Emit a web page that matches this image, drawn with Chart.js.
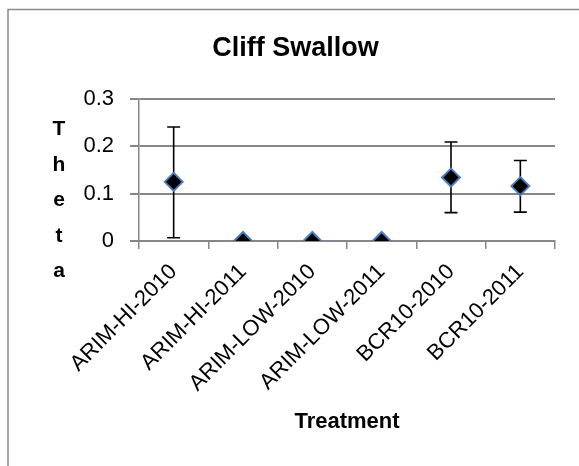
<!DOCTYPE html>
<html>
<head>
<meta charset="utf-8">
<script src="https://cdn.jsdelivr.net/npm/chart.js@4/dist/chart.umd.min.js"></script>
<style>
  html, body { margin: 0; padding: 0; background: #ffffff; }
  #wrap { width: 579px; height: 466px; }
</style>
</head>
<body>
<div id="wrap"><canvas id="chart" width="579" height="466"></canvas></div>
<script>
// Treatment groups along the x axis
const categories = ['ARIM-HI-2010', 'ARIM-HI-2011', 'ARIM-LOW-2010', 'ARIM-LOW-2011', 'BCR10-2010', 'BCR10-2011'];
// Estimated theta per treatment
const theta = [0.125, 0, 0, 0, 0.134, 0.116];
// Upper and lower ends of the error bars
const thetaUpper = [0.241, 0, 0, 0, 0.209, 0.170];
const thetaLower = [0.007, 0, 0, 0, 0.060, 0.061];
// Value axis ticks
const yTicks = [0, 0.1, 0.2, 0.3];

const chartTitle = 'Cliff Swallow';
const xTitle = 'Treatment';
const yTitle = 'Theta';

const SANS = "'Liberation Sans', Arial, sans-serif";
const GRID = '#868686';

// Thin frame around the chart object (left and top edges show)
const framePlugin = {
  id: 'frame',
  beforeDraw(chart) {
    const ctx = chart.ctx;
    ctx.save();
    ctx.strokeStyle = '#8a8a8a';
    ctx.lineWidth = 1.5;
    ctx.beginPath();
    ctx.moveTo(8, chart.height + 2);
    ctx.lineTo(8, 9.5);
    ctx.lineTo(chart.width + 2, 9.5);
    ctx.stroke();
    ctx.restore();
  }
};

// Vertical error bars with caps, drawn under the markers
const errorBarPlugin = {
  id: 'errorBars',
  beforeDatasetsDraw(chart) {
    const ctx = chart.ctx;
    const x = chart.scales.x, y = chart.scales.y;
    ctx.save();
    ctx.strokeStyle = '#000000';
    ctx.lineWidth = 1.6;
    const cap = 6.5;
    categories.forEach((c, i) => {
      if (thetaUpper[i] <= thetaLower[i]) return;
      const px = x.getPixelForValue(i);
      const top = y.getPixelForValue(thetaUpper[i]);
      const bot = y.getPixelForValue(thetaLower[i]);
      ctx.beginPath();
      ctx.moveTo(px, top); ctx.lineTo(px, bot);
      ctx.moveTo(px - cap, top); ctx.lineTo(px + cap, top);
      ctx.moveTo(px - cap, bot); ctx.lineTo(px + cap, bot);
      ctx.stroke();
    });
    ctx.restore();
  }
};

// Value-axis title written as stacked letters
const stackedTitlePlugin = {
  id: 'stackedTitle',
  afterDraw(chart) {
    const ctx = chart.ctx;
    const ys = chart.scales.y;
    ctx.save();
    ctx.fillStyle = '#000000';
    ctx.font = 'bold 21px ' + SANS;
    ctx.textAlign = 'center';
    ctx.textBaseline = 'alphabetic';
    const cx = ys.left + 23;
    const first = ys.top + 36;
    yTitle.split('').forEach((ch, i) => {
      ctx.fillText(ch, cx, first + i * 35.5);
    });
    ctx.restore();
  }
};

new Chart(document.getElementById('chart'), {
  type: 'line',
  data: {
    labels: categories,
    datasets: [{
      label: yTitle,
      data: theta,
      showLine: false,
      pointStyle: 'rectRot',
      pointRadius: 9,
      pointHoverRadius: 9,
      pointBorderWidth: 2,
      pointBackgroundColor: '#000000',
      pointBorderColor: '#4a7ebb'
    }]
  },
  options: {
    responsive: false,
    animation: false,
    events: [],
    layout: { padding: { left: 36, right: 24, top: 0, bottom: 27 } },
    plugins: {
      legend: { display: false },
      tooltip: { enabled: false },
      title: {
        display: true,
        text: chartTitle,
        color: '#000000',
        font: { family: SANS, size: 27, weight: 'bold', lineHeight: 1.2 },
        padding: { top: 32.3, bottom: 34.3 }
      }
    },
    scales: {
      x: {
        offset: true,
        grid: { offset: true, drawOnChartArea: false, drawTicks: true, tickLength: 8, color: GRID, lineWidth: 1.5 },
        border: { display: true, color: GRID, width: 1.5 },
        ticks: {
          autoSkip: false, maxRotation: 45, minRotation: 45, padding: 10,
          color: '#000000', font: { family: SANS, size: 22 }
        },
        title: {
          display: true, text: xTitle, color: '#000000',
          font: { family: SANS, size: 22, weight: 'bold', lineHeight: 1.2 },
          padding: { top: 0, bottom: 4 }
        },
        afterFit(s) { s.height = 198; }
      },
      y: {
        min: 0, max: 0.3,
        afterBuildTicks(s) { s.ticks = yTicks.map(v => ({ value: v })); },
        grid: { color: GRID, lineWidth: 2, tickLength: 9 },
        border: { display: true, color: GRID, width: 1.5 },
        ticks: {
          padding: 16, color: '#000000', font: { family: SANS, size: 22 },
          callback: v => String(v)
        },
        afterFit(s) { s.width = 103; }
      }
    }
  },
  plugins: [framePlugin, errorBarPlugin, stackedTitlePlugin]
});
</script>
</body>
</html>
